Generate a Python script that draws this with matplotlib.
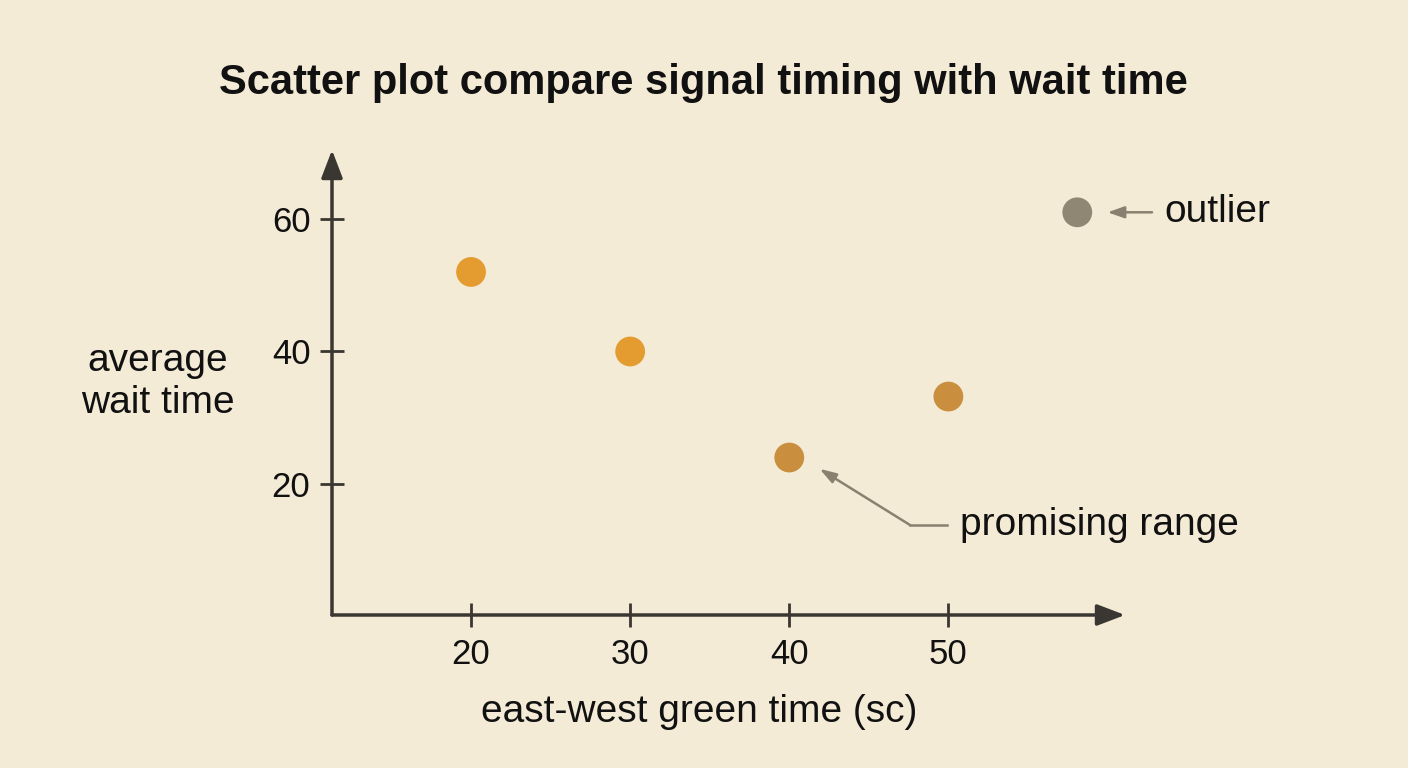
import matplotlib
matplotlib.use("Agg")
import matplotlib.pyplot as plt

plt.rcParams["font.family"] = ["Liberation Sans", "DejaVu Sans"]

# data
green_time = [20, 30, 40, 50]
wait_time = [52, 40, 24, 33.2]
point_colors = ["#E49B2F", "#E49B2F", "#C98E3E", "#C98E3E"]
outlier_x = 58.1
outlier_y = 61
x_ticks = [20, 30, 40, 50]
y_ticks = [20, 40, 60]

bg = "#F4EBD6"
ink = "#3A3632"
note = "#8A8070"
txt = "#111111"

fig = plt.figure(figsize=(14.08, 7.68), dpi=100, facecolor=bg)
ax = fig.add_axes([332 / 1408, 1 - 615 / 768, (1125 - 332) / 1408, (615 - 150) / 768])
ax.set_facecolor(bg)
ax.set_xlim(11.26, 61.1)
ax.set_ylim(0.24, 70.4)

for s in ax.spines.values():
    s.set_visible(False)

# axes with arrow heads
head = "-|>,head_length=1.7,head_width=0.65"
ax.annotate("", xy=(1, 0), xytext=(0, 0), xycoords="axes fraction",
            arrowprops=dict(arrowstyle=head, color=ink, lw=2.5, shrinkA=0, shrinkB=0))
ax.annotate("", xy=(0, 1), xytext=(0, 0), xycoords="axes fraction",
            arrowprops=dict(arrowstyle=head, color=ink, lw=2.5, shrinkA=0, shrinkB=0))

ax.set_xticks(x_ticks)
ax.set_yticks(y_ticks)
ax.tick_params(direction="inout", length=17, width=2, color=ink,
               labelsize=25, labelcolor=txt)
ax.tick_params(axis="x", pad=8)
ax.tick_params(axis="y", pad=7)

ax.scatter(green_time, wait_time, s=460, c=point_colors, edgecolors="none",
           zorder=3, clip_on=False)
ax.scatter([outlier_x], [outlier_y], s=460, c="#8F8674", edgecolors="none",
           zorder=3, clip_on=False)

# annotations
ax.annotate("", xy=(outlier_x + 1.9, outlier_y), xytext=(outlier_x + 4.7, outlier_y),
            annotation_clip=False,
            arrowprops=dict(arrowstyle="-|>,head_length=1.0,head_width=0.35",
                            color=note, lw=1.8, shrinkA=0, shrinkB=0))
ax.text(outlier_x + 5.5, outlier_y, "outlier", fontsize=28, color=txt,
        va="center", ha="left", clip_on=False)

ax.annotate("", xy=(41.9, 22.3), xytext=(47.6, 13.8),
            arrowprops=dict(arrowstyle="-|>,head_length=1.0,head_width=0.32",
                            color=note, lw=1.8, shrinkA=0, shrinkB=0))
ax.plot([47.6, 49.9], [13.8, 13.8], color=note, lw=1.8)
ax.text(50.7, 13.8, "promising range", fontsize=28, color=txt,
        va="center", ha="left")

fig.text(699 / 1408, 1 - 712 / 768, "east-west green time (sc)", fontsize=28,
         color=txt, ha="center", va="center")
fig.text(158 / 1408, 1 - 382 / 768, "average\nwait time", fontsize=28,
         color=txt, ha="center", va="center", linespacing=1.2)

fig.text(703 / 1408, 1 - 83 / 768, "Scatter plot compare signal timing with wait time",
         fontsize=30, fontweight="bold", color=txt, ha="center", va="center")

fig.savefig("out.png", dpi=100, facecolor=bg)
